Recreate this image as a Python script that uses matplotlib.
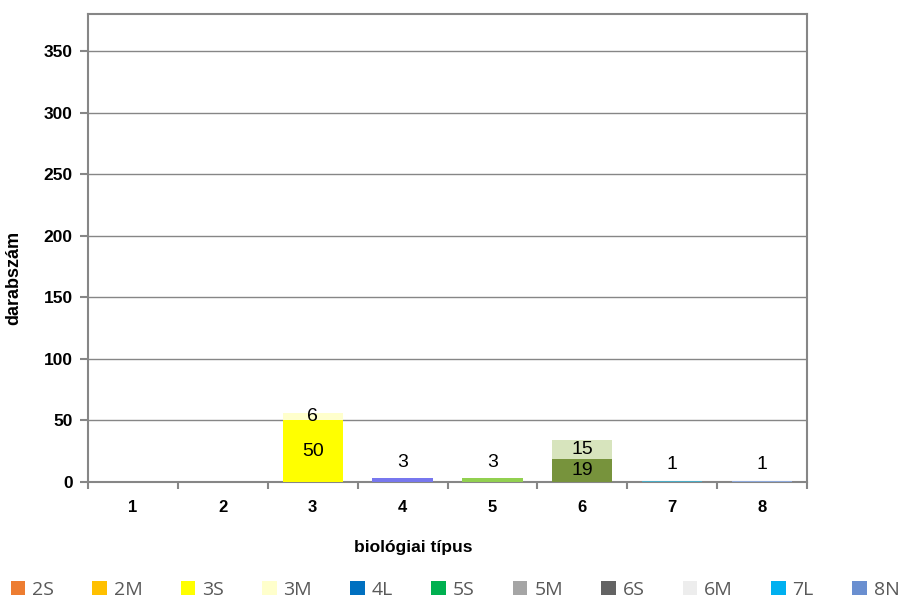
import numpy as np
import matplotlib
matplotlib.use("Agg")
import matplotlib.pyplot as plt
from matplotlib.patches import Patch

# data
categories = ['1', '2', '3', '4', '5', '6', '7', '8']
lower = [0, 0, 50, 3, 3, 19, 1, 1]        # first segment of each bar
upper = [0, 0, 6, 0, 0, 15, 0, 0]         # second segment
lower_colors = ['#ffffff', '#ffffff', '#ffff00', '#7777ee', '#92d050', '#77933c', '#4bacc6', '#8ea9db']
upper_colors = ['#ffffff', '#ffffff', '#ffffcc', '#ffffff', '#ffffff', '#d7e4bd', '#ffffff', '#ffffff']

legend_labels = ['2S', '2M', '3S', '3M', '4L', '5S', '5M', '6S', '6M', '7L', '8N']
legend_colors = ['#ed7d31', '#ffc000', '#ffff00', '#ffffcc', '#0070c0', '#00b050',
                 '#a5a5a5', '#636363', '#ededed', '#00b0f0', '#6a8fd0']

plt.rcParams['font.family'] = ['Liberation Sans', 'DejaVu Sans']

fig = plt.figure(figsize=(9, 5.98), dpi=100)
ax = fig.add_axes([88/900, 1-482/598, 719/900, 468/598])

x = np.arange(len(categories))
ax.bar(x, lower, width=0.67, color=lower_colors, zorder=3)
ax.bar(x, upper, width=0.67, bottom=lower, color=upper_colors, zorder=3)

# data labels
lab_size = 14
for i in range(len(categories)):
    if lower[i] == 0:
        continue
    if lower[i] >= 10:
        ax.text(x[i], lower[i]/2, str(lower[i]), ha='center', va='center', fontsize=lab_size, zorder=4)
    else:
        ax.text(x[i], lower[i] + 13, str(lower[i]), ha='center', va='center', fontsize=lab_size, zorder=4)
    if upper[i] > 0:
        ax.text(x[i], lower[i] + upper[i]/2, str(upper[i]), ha='center', va='center', fontsize=lab_size, zorder=4)

ax.set_xlim(-0.5, len(categories) - 0.5)
ax.set_ylim(0, 380)
ax.set_yticks(np.arange(0, 351, 50))
ax.set_xticks(x)
ax.set_xticklabels(categories, fontsize=12, fontweight='bold')
ax.set_xticks(np.arange(-0.5, len(categories), 1), minor=True)
for lab in ax.get_yticklabels():
    lab.set_fontsize(12.5)
    lab.set_fontweight('bold')

ax.grid(axis='y', color='#868686', linewidth=1, zorder=0)
for s in ax.spines.values():
    s.set_color('#868686')
    s.set_linewidth(1.5)
ax.tick_params(axis='y', length=6, width=1.5, color='#868686', pad=5)
ax.tick_params(axis='x', which='major', length=0, pad=13)
ax.tick_params(axis='x', which='minor', length=5, width=1.5, color='#868686')

ax.set_ylabel('darabszám', fontsize=13, fontweight='bold')
ax.yaxis.set_label_coords(-0.091, 0.436)
ax.set_xlabel('biológiai típus', fontsize=12.5, fontweight='bold')
ax.xaxis.set_label_coords(0.452, -0.124)

handles = [Patch(facecolor=c, edgecolor='none') for c in legend_colors]
leg = fig.legend(handles, legend_labels, loc='center', bbox_to_anchor=(455/900, 1-590/598),
                 ncol=len(legend_labels), frameon=False,
                 prop={'family': 'Open Sans', 'size': 14},
                 handlelength=0.75, handleheight=0.75, handletextpad=0.35,
                 columnspacing=1.97)
for t in leg.get_texts():
    t.set_color('#595959')

fig.savefig('out.png', dpi=100)
